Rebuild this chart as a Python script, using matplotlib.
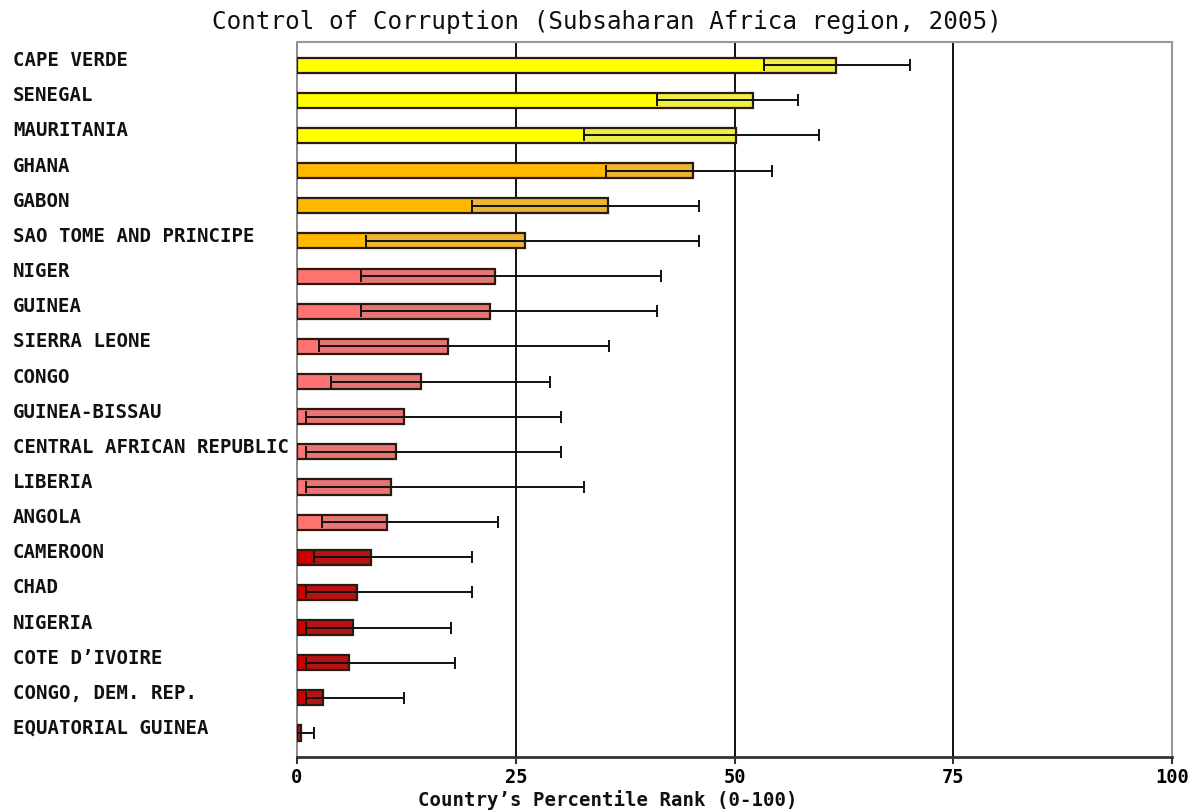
import matplotlib
matplotlib.use("Agg")
import matplotlib.pyplot as plt
import matplotlib.transforms as mtransforms

countries = [
    "CAPE VERDE", "SENEGAL", "MAURITANIA", "GHANA", "GABON",
    "SAO TOME AND PRINCIPE", "NIGER", "GUINEA", "SIERRA LEONE", "CONGO",
    "GUINEA-BISSAU", "CENTRAL AFRICAN REPUBLIC", "LIBERIA", "ANGOLA",
    "CAMEROON", "CHAD", "NIGERIA", "COTE D\u2019IVOIRE", "CONGO, DEM. REP.",
    "EQUATORIAL GUINEA",
]
# percentile rank and the lower / upper bounds of its confidence interval
rank = [61.6, 52.1, 50.2, 45.2, 35.5, 26.0, 22.6, 22.1, 17.3, 14.2,
        12.2, 11.3, 10.7, 10.3, 8.5, 6.8, 6.4, 5.9, 3.0, 0.5]
lower = [53.4, 41.1, 32.8, 35.3, 20.0, 7.9, 7.3, 7.3, 2.5, 3.9,
         1.0, 1.0, 1.0, 2.8, 1.9, 1.0, 1.0, 1.0, 1.0, 0.0]
upper = [70.0, 57.3, 59.7, 54.3, 45.9, 45.9, 41.6, 41.1, 35.7, 28.9,
         30.2, 30.2, 32.8, 23.0, 20.0, 20.0, 17.6, 18.1, 12.2, 1.9]
tier = [0, 0, 0, 1, 1, 1, 2, 2, 2, 2, 2, 2, 2, 2, 3, 3, 3, 3, 3, 3]

# (solid part up to the lower bound, lighter part up to the rank)
tier_colors = [
    ("#FFFF00", "#EEEE44"),
    ("#FFB800", "#EDB533"),
    ("#FF7373", "#E87474"),
    ("#CC0000", "#B81212"),
]
ticks = [0, 25, 50, 75, 100]

mono = "DejaVu Sans Mono"

fig = plt.figure(figsize=(11.92, 8.10), dpi=100)
ax = fig.add_axes([297 / 1192, 53.3 / 810, 875 / 1192, 714.7 / 810])

ypos = list(range(len(countries)))
bar_h = 0.43

for y, r, lo, hi, t in zip(ypos, rank, lower, upper, tier):
    solid, light = tier_colors[t]
    lo_c = min(lo, r)
    ax.barh(y, r, height=bar_h, color=light, edgecolor="none", zorder=3)
    if lo_c > 0:
        ax.barh(y, lo_c, height=bar_h, color=solid, edgecolor="none", zorder=3)
    ax.barh(y, r, height=bar_h, color="none", edgecolor="#2a1a10",
            linewidth=1.6, zorder=4)

ax.errorbar(rank, ypos,
            xerr=[[r - lo for r, lo in zip(rank, lower)],
                  [hi - r for r, hi in zip(rank, upper)]],
            fmt="none", ecolor="#111111", elinewidth=1.4, capsize=4,
            capthick=1.4, zorder=5)

for g in ticks[1:-1]:
    ax.axvline(g, color="#111111", linewidth=1.4, zorder=2)

ax.set_xlim(0, 100)
ax.set_ylim(19.674, -0.66)
ax.set_xticks(ticks)
ax.set_xticklabels([str(t) for t in ticks], fontfamily=mono,
                   fontweight="bold", fontsize=13.5)
ax.tick_params(axis="x", direction="out", length=5, width=1.5,
               color="#333333", pad=3)
ax.set_yticks([])

for side in ("top", "right"):
    ax.spines[side].set_color("#999999")
    ax.spines[side].set_linewidth(1.5)
ax.spines["left"].set_color("#777777")
ax.spines["left"].set_linewidth(1.2)
ax.spines["bottom"].set_color("#333333")
ax.spines["bottom"].set_linewidth(2)

# country names, left-aligned at the figure edge
trans = mtransforms.blended_transform_factory(fig.transFigure, ax.transData)
offset = mtransforms.ScaledTranslation(0, 4.5 / 100, fig.dpi_scale_trans)
for y, name in zip(ypos, countries):
    ax.text(13 / 1192, y, name, transform=trans + offset, ha="left",
            va="center", fontfamily=mono, fontweight="bold", fontsize=13.7,
            color="#111111", clip_on=False)

fig.text(607 / 1192, 1 - 22 / 810,
         "Control of Corruption (Subsaharan Africa region, 2005)",
         ha="center", va="center", fontfamily=mono, fontsize=17.5,
         color="#111111")
fig.text(608 / 1192, 1 - 800 / 810, "Country\u2019s Percentile Rank (0-100)",
         ha="center", va="center", fontfamily=mono, fontweight="bold",
         fontsize=13.7, color="#111111")

fig.savefig("out.png", dpi=100, facecolor="white")
